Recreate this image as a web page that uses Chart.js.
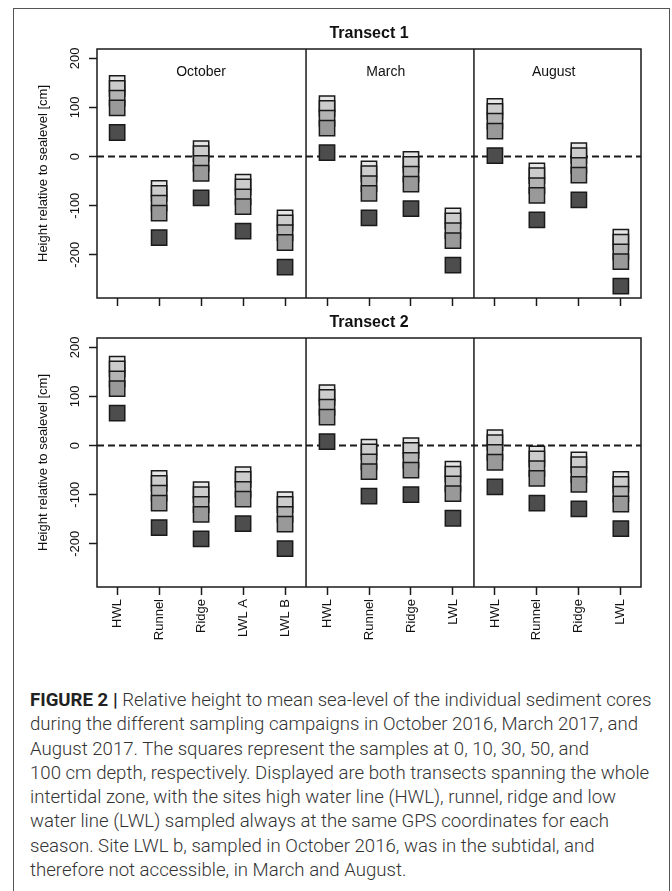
<!DOCTYPE html>
<html><head><meta charset="utf-8">
<script src="https://cdn.jsdelivr.net/npm/chart.js@4.4.0/dist/chart.umd.min.js"></script>
<style>
html,body{margin:0;padding:0;background:#fff;width:672px;height:891px;overflow:hidden;}
#frame{position:absolute;left:13px;top:8px;width:657px;height:900px;border:1px solid #555;box-sizing:border-box;}
canvas{position:absolute;left:0;}
#c1{top:0}
#c2{top:300px}
#caption{position:absolute;left:30px;top:688px;font-family:Roboto, "Liberation Sans", sans-serif;font-weight:300;font-size:17px;line-height:24.3px;color:#333;white-space:nowrap;}
#caption div{height:24.3px}
#caption b{font-weight:700;color:#222}
</style></head>
<body>
<div id="frame"></div>
<canvas id="c1" width="672" height="315"></canvas>
<canvas id="c2" width="672" height="360"></canvas>
<div id="caption">
<div id="cap1"><b>FIGURE 2 |</b> Relative height to mean sea-level of the individual sediment cores</div>
<div>during the different sampling campaigns in October 2016, March 2017, and</div>
<div>August 2017. The squares represent the samples at 0, 10, 30, 50, and</div>
<div>100 cm depth, respectively. Displayed are both transects spanning the whole</div>
<div>intertidal zone, with the sites high water line (HWL), runnel, ridge and low</div>
<div>water line (LWL) sampled always at the same GPS coordinates for each</div>
<div>season. Site LWL b, sampled in October 2016, was in the subtidal, and</div>
<div>therefore not accessible, in March and August.</div>
</div>
<script>
// ---- data ----
const positions = [1,2,3,4,5,6,7,8,9,10,11,12,13];
const siteLabels = ["HWL","Runnel","Ridge","LWL A","LWL B","HWL","Runnel","Ridge","LWL","HWL","Runnel","Ridge","LWL"];
const months = ["October","March","August"];
const monthX = [3, 7.4, 11.4];
const monthY = 172;
const panelBreaks = [5.5, 9.5];
const yTicks = [200, 100, 0, -100, -200];
const zeroLevel = 0;
const depths = ["0 cm","10 cm","30 cm","50 cm","100 cm"];

// Transect 1 heights (cm) per depth
const t1_0cm   = [149, -65,  16,  -52, -125, 108, -25,  -6, -121, 102, -29,  12, -164];
const t1_10cm  = [139, -75,   6,  -62, -135,  98, -35, -16, -131,  92, -39,   2, -174];
const t1_30cm  = [119, -95, -14,  -82, -155,  78, -55, -36, -151,  72, -59, -18, -194];
const t1_50cm  = [ 99,-115, -34, -102, -175,  58, -75, -56, -171,  52, -79, -38, -214];
const t1_100cm = [ 49,-165, -84, -152, -225,   8,-125,-106, -221,   2,-129, -88, -264];

// Transect 2 heights (cm) per depth
const t2_0cm   = [166, -67, -90,  -59, -110, 108,  -3,   0,  -48,  16, -17, -29,  -69];
const t2_10cm  = [156, -77,-100,  -69, -120,  98, -13, -10,  -58,   6, -27, -39,  -79];
const t2_30cm  = [136, -97,-120,  -89, -140,  78, -33, -30,  -78, -14, -47, -59,  -99];
const t2_50cm  = [116,-117,-140, -109, -160,  58, -53, -50,  -98, -34, -67, -79, -119];
const t2_100cm = [ 66,-167,-190, -159, -210,   8,-103,-100, -148, -84,-117,-129, -169];

// ---- styling ----
const fills = ["#e6e6e6","#cccccc","#b3b3b3","#999999","#4d4d4d"];
const FONT = '"Liberation Sans", Arial, sans-serif';
const INK = '#1a1a1a';

const decor = {
  id: 'decor',
  beforeDatasetsDraw(chart) {
    const {ctx, chartArea: a, scales: {y}} = chart;
    ctx.save();
    ctx.strokeStyle = INK; ctx.lineWidth = 2; ctx.setLineDash([7, 4]);
    const y0 = y.getPixelForValue(zeroLevel);
    ctx.beginPath(); ctx.moveTo(a.left, y0); ctx.lineTo(a.right, y0); ctx.stroke();
    ctx.restore();
  },
  afterDraw(chart, args, o) {
    const {ctx, chartArea: a, scales: {x, y}} = chart;
    ctx.save();
    ctx.strokeStyle = INK; ctx.lineWidth = 1.5; ctx.setLineDash([]);
    ctx.strokeRect(a.left, a.top, a.right - a.left, a.bottom - a.top);
    panelBreaks.forEach(v => {
      const px = x.getPixelForValue(v);
      ctx.beginPath(); ctx.moveTo(px, a.top); ctx.lineTo(px, a.bottom); ctx.stroke();
    });
    ctx.fillStyle = '#111';
    ctx.font = '13px ' + FONT;
    ctx.textAlign = 'center'; ctx.textBaseline = 'middle';
    yTicks.forEach(v => {
      ctx.save();
      ctx.translate(a.left - 22, y.getPixelForValue(v));
      ctx.rotate(-Math.PI / 2);
      ctx.fillText(String(v), 0, 0);
      ctx.restore();
    });
    ctx.save();
    ctx.translate(43, (a.top + a.bottom) / 2);
    ctx.rotate(-Math.PI / 2);
    ctx.fillText('Height relative to sealevel [cm]', 0, 0);
    ctx.restore();
    ctx.font = 'bold 16px ' + FONT;
    ctx.fillText(o.title, (a.left + a.right) / 2, a.top - 15);
    if (o.months) {
      ctx.font = '14px ' + FONT;
      months.forEach((m, i) => ctx.fillText(m, x.getPixelForValue(monthX[i]), y.getPixelForValue(monthY)));
    }
    ctx.restore();
  }
};

function makeChart(id, title, series, showLabels, showMonths, padTop, padBottom, xAxisH) {
  const datasets = series.map((arr, k) => ({
    label: depths[k],
    data: positions.map((p, i) => ({x: p, y: arr[i]})),
    pointStyle: 'rect', pointRadius: 10.8, pointHoverRadius: 10.8,
    backgroundColor: fills[k], borderColor: INK, borderWidth: 1.5,
    order: series.length - k
  }));
  return new Chart(document.getElementById(id), {
    type: 'scatter',
    data: {datasets},
    plugins: [decor],
    options: {
      responsive: false, animation: false, devicePixelRatio: 1,
      layout: {padding: {left: 0, right: 31, top: padTop, bottom: padBottom}},
      plugins: {legend: {display: false}, tooltip: {enabled: false}, decor: {title, months: showMonths}},
      scales: {
        x: {
          type: 'linear', min: 0.52, max: 13.48,
          afterBuildTicks: s => { s.ticks = positions.map(v => ({value: v})); },
          afterFit: s => { s.height = xAxisH; },
          border: {display: false},
          grid: {drawOnChartArea: false, drawTicks: true, tickLength: 8, tickColor: INK, tickWidth: 1.5, color: INK},
          ticks: {display: showLabels, autoSkip: false, minRotation: 90, maxRotation: 90, padding: 4, color: '#111',
                  font: {family: FONT, size: 13}, callback: (v, i) => siteLabels[i]}
        },
        y: {
          type: 'linear', min: -288, max: 219,
          afterBuildTicks: s => { s.ticks = yTicks.map(v => ({value: v})); },
          afterFit: s => { s.width = 97; },
          border: {display: false},
          grid: {drawOnChartArea: false, drawTicks: true, tickLength: 8, tickColor: INK, tickWidth: 1.5, color: INK},
          ticks: {display: false}
        }
      }
    }
  });
}

makeChart('c1', 'Transect 1', [t1_0cm, t1_10cm, t1_30cm, t1_50cm, t1_100cm], false, true, 49, 5, 12);
makeChart('c2', 'Transect 2', [t2_0cm, t2_10cm, t2_30cm, t2_50cm, t2_100cm], true, false, 38, 5, 68);

// fit caption width to reference line length
(function(){
  const cap = document.getElementById('caption');
  const l1 = document.getElementById('cap1');
  const r = document.createRange(); r.selectNodeContents(l1);
  const w = r.getBoundingClientRect().width;
  if (w > 0) cap.style.fontSize = (17 * 622 / w).toFixed(2) + 'px';
})();
</script>
</body></html>
